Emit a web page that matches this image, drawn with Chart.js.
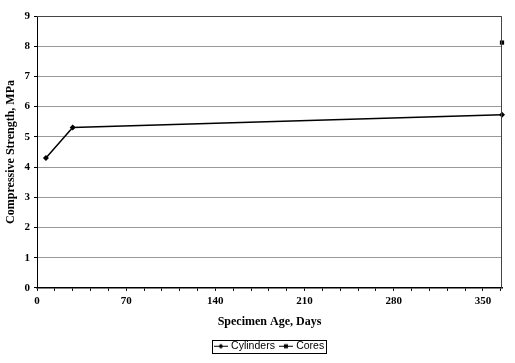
<!DOCTYPE html>
<html>
<head>
<meta charset="utf-8">
<script src="https://cdn.jsdelivr.net/npm/chart.js@4"></script>
<style>
html,body{margin:0;padding:0;background:#fff;}
#wrap{width:515px;height:363px;position:relative;}
</style>
</head>
<body>
<div id="wrap"><canvas id="c" width="515" height="363"></canvas></div>
<script>
const cylinderDays = [7, 28, 365];
const cylinderStrength = [4.3, 5.31, 5.73];
const coreDays = [365];
const coreStrength = [8.12];
const seriesNames = ["Cylinders", "Cores"];
const xTitle = "Specimen Age, Days";
const yTitle = "Compressive Strength, MPa";

function legendIcon(kind){
  const cv = document.createElement('canvas');
  cv.width = 14; cv.height = 8;
  const g = cv.getContext('2d');
  g.strokeStyle = '#000'; g.lineWidth = 1;
  g.beginPath(); g.moveTo(0,4.5); g.lineTo(14,4.5); g.stroke();
  g.fillStyle = '#000';
  if (kind === 'diamond'){
    g.beginPath(); g.moveTo(7,2); g.lineTo(9.5,4.5); g.lineTo(7,7); g.lineTo(4.5,4.5); g.closePath(); g.fill();
  } else {
    g.fillRect(5,2.5,4,4);
  }
  return cv;
}

const LEGEND_SHIFT = 17;
const frame = {
  id: 'frame',
  afterLayout(chart){
    const L = chart.legend;
    if (L){ L.left += LEGEND_SHIFT; L.right += LEGEND_SHIFT; }
  },
  afterDraw(chart){
    const ctx = chart.ctx, a = chart.chartArea;
    ctx.save();
    ctx.strokeStyle = '#444'; ctx.lineWidth = 1;
    ctx.beginPath();
    ctx.moveTo(a.left, a.top + 0.5); ctx.lineTo(a.right - 0.5, a.top + 0.5); ctx.lineTo(a.right - 0.5, a.bottom);
    ctx.stroke();
    const L = chart.legend;
    if (L && L.legendHitBoxes && L.legendHitBoxes.length){
      const hb = L.legendHitBoxes;
      const x0 = hb[0].left - 4, x1 = hb[hb.length-1].left + hb[hb.length-1].width + 2;
      const y0 = hb[0].top - 1, y1 = hb[0].top + hb[0].height + 1;
      ctx.strokeStyle = '#000';
      ctx.strokeRect(Math.round(x0)+0.5, Math.round(y0)+0.5, Math.round(x1-x0), Math.round(y1-y0));
    }
    ctx.restore();
  }
};

new Chart(document.getElementById('c'), {
  type: 'scatter',
  data: {
    datasets: [
      {
        label: seriesNames[0],
        data: cylinderDays.map((d,i)=>({x:d, y:cylinderStrength[i]})),
        showLine: true,
        borderColor: '#000', backgroundColor: '#000', borderWidth: 1.5,
        pointStyle: 'rectRot', pointRadius: 3, pointBorderWidth: 0,
        clip: false
      },
      {
        label: seriesNames[1],
        data: coreDays.map((d,i)=>({x:d, y:coreStrength[i]})),
        showLine: false,
        borderColor: '#000', backgroundColor: '#000',
        pointStyle: 'rect', pointRadius: 3, pointBorderWidth: 0,
        clip: false
      }
    ]
  },
  options: {
    responsive: false,
    animation: false,
    layout: { padding: { top: 16, right: 13, left: 4, bottom: 2 } },
    plugins: {
      tooltip: { enabled: false },
      legend: {
        position: 'bottom',
        labels: {
          color: '#000',
          font: { family: '"Liberation Sans", Arial, sans-serif', size: 10.5 },
          boxWidth: 10, boxHeight: 8, pointStyleWidth: 10, padding: 6,
          usePointStyle: true,
          generateLabels(chart){
            return seriesNames.map((n,i)=>({
              text: n, datasetIndex: i, fontColor: '#000',
              pointStyle: legendIcon(i===0 ? 'diamond' : 'square'),
              strokeStyle: '#000', fillStyle: '#000', lineWidth: 0
            }));
          }
        }
      }
    },
    scales: {
      x: {
        type: 'linear', min: 0, max: 365,
        border: { color: '#000', width: 1.5 },
        grid: { drawOnChartArea: false, color: '#000', tickLength: 3 },
        ticks: {
          stepSize: 14, includeBounds: false, autoSkip: false, maxRotation: 0,
          color: '#000', padding: 4,
          font: { family: '"Liberation Serif", "Times New Roman", serif', size: 11, weight: 'bold' },
          callback: v => (v % 70 === 0 ? String(v) : '')
        },
        title: {
          display: true, text: xTitle, color: '#000', padding: { top: 3, bottom: 5 },
          font: { family: '"Liberation Serif", "Times New Roman", serif', size: 12, weight: 'bold' }
        }
      },
      y: {
        min: 0, max: 9,
        border: { color: '#000', width: 1 },
        grid: { color: '#999', lineWidth: 1, tickLength: 3, tickColor: '#000' },
        ticks: {
          stepSize: 1, color: '#000', padding: 4,
          font: { family: '"Liberation Serif", "Times New Roman", serif', size: 11, weight: 'bold' }
        },
        title: {
          display: true, text: yTitle, color: '#000', padding: { top: 0, bottom: 2 },
          font: { family: '"Liberation Serif", "Times New Roman", serif', size: 12, weight: 'bold' }
        },
        afterFit(s){ s.width = 33; }
      }
    }
  },
  plugins: [frame]
});
</script>
</body>
</html>
